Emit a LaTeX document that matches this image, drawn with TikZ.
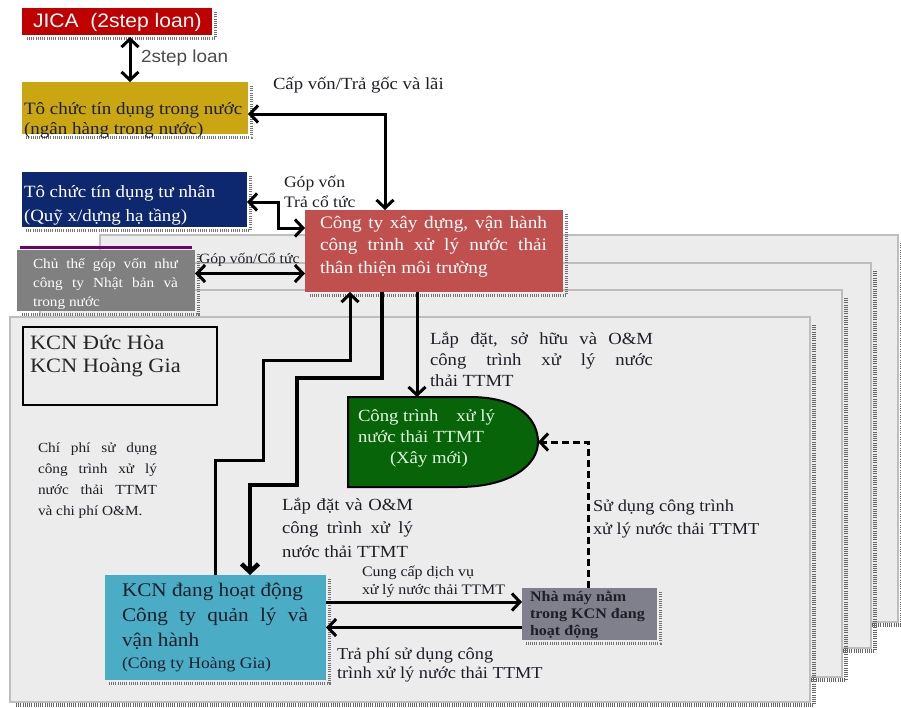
\documentclass[tikz,border=0pt]{standalone}
\usepackage{fontspec}
\setmainfont[FakeStretch=1.1]{Liberation Serif}
\newfontfamily\arialf[FakeStretch=1.08]{Liberation Sans}
\usetikzlibrary{arrows.meta}
\definecolor{jicared}{RGB}{192,0,0}
\definecolor{gold}{RGB}{201,166,18}
\definecolor{navyc}{RGB}{14,40,112}
\definecolor{coral}{RGB}{192,80,77}
\definecolor{grayc}{RGB}{128,128,128}
\definecolor{purp}{RGB}{112,0,112}
\definecolor{greenc}{RGB}{8,100,8}
\definecolor{cyanc}{RGB}{75,172,198}
\definecolor{nmgray}{RGB}{128,128,140}
\definecolor{stackfill}{RGB}{236,236,236}
\definecolor{stackline}{RGB}{190,190,190}
\definecolor{ink}{RGB}{30,30,40}
\definecolor{greentext}{RGB}{225,250,225}
\newcommand\jline[2]{\makebox[#1][s]{#2}}
\newcommand\boxshd[1]{\draw[bshd] ([xshift=3pt,yshift=-4pt]#1.north east) -- ([xshift=3pt,yshift=-3pt]#1.south east) -- ([xshift=4pt,yshift=-3pt]#1.south west);}
\begin{document}
\begin{tikzpicture}[x=1pt,y=-1pt,
 bx/.style={anchor=north west, inner sep=0pt, outer sep=0pt},
 lbl/.style={anchor=north west, inner sep=0pt, outer sep=0pt, align=left, text=ink},
 stackrect/.style={fill=stackfill, draw=stackline, line width=2.5pt},
 shd/.style={line width=4.5pt, dash pattern=on 1pt off 1.2pt, black!60},
 bshd/.style={line width=3pt, dash pattern=on 0.8pt off 1.4pt, black!55},
 conn/.style={line width=3pt},
 thickconn/.style={line width=4.5pt},
 >={Straight Barb[length=8pt,width=17pt]}
]
\useasboundingbox (0,0) rectangle (901,707);
\fill[white] (0,0) rectangle (901,707);

% stacked background sheets
\foreach \xa/\ya/\xb/\yb in {100/235/898/622, 70/263/871/648, 40/290/842/677, 10/317/810/702}{
  \draw[stackrect] (\xa,\ya) rectangle (\xb,\yb);
  \draw[shd] (\xb+4,\ya+8) -- (\xb+4,\yb+3) -- (\xa+6,\yb+3);
}

% boxes
\node[bx, fill=jicared, minimum width=190pt, minimum height=27pt] (jica) at (22,8) {};
\boxshd{jica}
\node[lbl, text=white, font=\arialf\fontsize{19.5}{22}\selectfont] (jicat) at (33,13.5) {JICA\ \ (2step loan)};

\node[bx, fill=gold, minimum width=226pt, minimum height=52pt] (yellow) at (22,82) {};
\boxshd{yellow}
\node[lbl, font=\fontsize{17.3}{20}\selectfont] (yellowt) at (24,102) {Tô chức tín dụng trong nước\\(ngân hàng trong nước)};

\node[bx, fill=navyc, minimum width=225pt, minimum height=55pt] (navy) at (22,172) {};
\boxshd{navy}
\node[lbl, text=white, font=\fontsize{17.2}{24}\selectfont] (navyt) at (24,186) {Tô chức tín dụng tư nhân\\(Quỹ x/dựng hạ tầng)};

\node[bx, fill=grayc, minimum width=178pt, minimum height=61pt] (gray) at (17,250) {};
\draw[purp, line width=3pt] (20,247.5) -- (192,247.5);
\boxshd{gray}
\node[lbl, text=white, font=\fontsize{13.9}{19}\selectfont] (grayt) at (33,258) {\jline{145pt}{Chủ thể góp vốn như}\\\jline{145pt}{công ty Nhật bản và}\\trong nước};

\node[bx, fill=coral, minimum width=258pt, minimum height=82pt] (congty) at (305,210) {};
\boxshd{congty}
\node[lbl, text=white, font=\fontsize{17.5}{22.5}\selectfont] (congtyt) at (320,216) {\jline{227pt}{Công ty xây dựng, vận hành}\\\jline{227pt}{công trình xử lý nước thải}\\thân thiện môi trường};

\node[bx, draw=black, line width=1.2pt, minimum width=194pt, minimum height=78pt] (duchoa) at (23,327) {};
\node[lbl, text=black!85, font=\fontsize{20.4}{23}\selectfont] (duchoat) at (30,335) {KCN Đức Hòa\\KCN Hoàng Gia};

\node[bx, minimum width=190pt, minimum height=90pt] (green) at (348,397) {};
\filldraw[fill=greenc, draw=black, line width=2pt] (green.north west) -- (470,397) .. controls (522,397) and (538,422) .. (538,442) .. controls (538,464) and (512,487) .. (458,487) -- (green.south west) -- cycle;
\node[lbl, text=greentext, font=\fontsize{17}{21}\selectfont] (greent) at (358,410) {\jline{137pt}{Công trình \hfill xử lý}\\nước thải TTMT\\\hspace*{32pt}(Xây mới)};

\node[bx, fill=cyanc, minimum width=221pt, minimum height=105pt] (kcn) at (105,575) {};
\boxshd{kcn}
\node[lbl, text=ink, font=\fontsize{19.3}{25}\selectfont] (kcnt) at (122,583) {KCN đang hoạt động\\\jline{186pt}{Công ty quản lý và}\\vận hành\\[-3pt]{\fontsize{16}{20}\selectfont(Công ty Hoàng Gia)}};

\node[bx, fill=nmgray, minimum width=135pt, minimum height=52pt] (nha) at (522,588) {};
\boxshd{nha}
\node[lbl, text=ink, font=\bfseries\fontsize{14.6}{17}\selectfont] (nhat) at (530,591) {Nhà máy nằm\\trong KCN đang\\hoạt động};

% free labels
\node[lbl, text=black!70, font=\arialf\fontsize{17.5}{19}\selectfont] (l2step) at (141,50) {2step loan};
\node[lbl, font=\fontsize{17}{20}\selectfont] (lcapvon) at (273,77.5) {Cấp vốn/Trả gốc và lãi};
\node[lbl, font=\fontsize{16}{20}\selectfont] (lgopvon) at (284,176) {Góp vốn\\Trả cổ tức};
\node[lbl, font=\fontsize{14.2}{16}\selectfont] (lcotuc) at (199,253) {Góp vốn/Cổ tức};
\node[lbl, font=\fontsize{17}{21}\selectfont] (llapdat1) at (430,332) {\jline{223pt}{Lắp đặt, sở hữu và O\&M}\\\jline{223pt}{công trình xử lý nước}\\thải TTMT};
\node[lbl, font=\fontsize{17}{23.5}\selectfont] (llapdat2) at (282,498) {\jline{131pt}{Lắp đặt và O\&M}\\\jline{131pt}{công trình xử lý}\\nước thải TTMT};
\node[lbl, font=\fontsize{16.7}{23}\selectfont] (lsudung) at (593,500) {Sử dụng công trình\\xử lý nước thải TTMT};
\node[lbl, font=\fontsize{13.9}{21}\selectfont] (lchiphi) at (38,443) {\jline{119pt}{Chí phí sử dụng}\\\jline{119pt}{công trình xử lý}\\\jline{119pt}{nước thải TTMT}\\và chi phí O\&M.};
\node[lbl, font=\fontsize{14.5}{18}\selectfont] (lcungcap) at (362,566) {Cung cấp dịch vụ\\\jline{143pt}{xử lý nước thải TTMT}};
\node[lbl, font=\fontsize{16.7}{19}\selectfont] (ltraphi) at (337,648) {Trả phí sử dụng công\\trình xử lý nước thải TTMT};

% connectors
\draw[conn, <->] ([xshift=108pt,yshift=-2pt]jica.south west) -- ([xshift=108pt]yellow.north west);
\draw[conn, <->] ([yshift=-6pt]yellow.east) -| ([xshift=80pt]congty.north west);
\draw[conn, <->] ([yshift=-2.5pt]navy.east) -- ++(31,0) |- ([yshift=-18pt]congty.north west);
\draw[conn, <->] ([yshift=7pt]gray.east) -- ([yshift=7pt]gray.east -| congty.west);
\draw[conn, ->] ([xshift=110pt]kcn.north west) -- ++(0,-115) -- ++(48,0) -- ++(0,-100) -| ([xshift=45pt]congty.south west);
\draw[thickconn, ->] ([xshift=77pt]congty.south west) -- ++(0,86) -- ++(-85,0) -- ++(0,107) -| ([xshift=145pt]kcn.north west);
\draw[conn, ->] ([xshift=112pt]congty.south west) coordinate (cgs) -- (cgs |- green.north);
\draw[conn, dash pattern=on 7pt off 4pt, ->] ([xshift=66pt]nha.north west) |- (green.east);
\draw[line width=3pt, ->] ([yshift=25.5pt]kcn.east) -- ([yshift=25.5pt]kcn.east -| nha.west);
\draw[line width=3pt, ->] (kcn.east -| nha.west) -- (kcn.east);
\end{tikzpicture}
\end{document}
